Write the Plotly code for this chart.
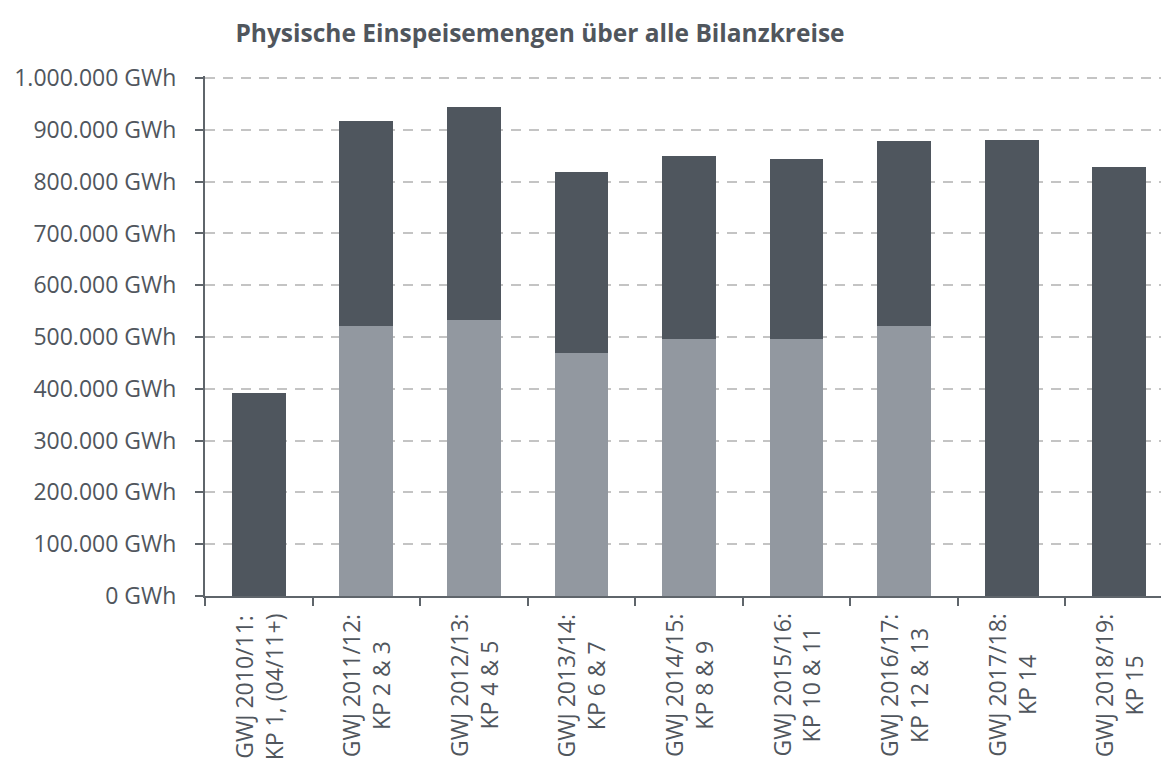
"""Physische Einspeisemengen über alle Bilanzkreise - stacked bar chart."""

import plotly.graph_objects as go

categories = [
    "GWJ 2010/11:<br>KP 1, (04/11+)",
    "GWJ 2011/12:<br>KP 2 & 3",
    "GWJ 2012/13:<br>KP 4 & 5",
    "GWJ 2013/14:<br>KP 6 & 7",
    "GWJ 2014/15:<br>KP 8 & 9",
    "GWJ 2015/16:<br>KP 10 & 11",
    "GWJ 2016/17:<br>KP 12 & 13",
    "GWJ 2017/18:<br>KP 14",
    "GWJ 2018/19:<br>KP 15",
]

# lower (light) part of the stack, GWh
lower_part = [0, 521000, 533000, 469000, 496000, 496000, 521000, 0, 0]
totals = [392000, 917000, 944000, 819000, 849000, 844000, 878000, 880000, 828000]
upper_part = [t - l for t, l in zip(totals, lower_part)]

y_ticks = [i * 100000 for i in range(11)]
y_tick_text = [f"{v:,}".replace(",", ".") + " GWh" for v in y_ticks]

DARK = "#4f565e"
LIGHT = "#9298a0"
TEXT = "#50565d"
AXIS = "#5f656b"
FONT = "Open Sans"

# the page body adds an 8px offset, so the figure is placed with that in mind
W, H = 1169, 763

fig = go.Figure()
fig.add_trace(go.Bar(x=categories, y=lower_part, marker={"color": LIGHT, "line": {"width": 0}}))
fig.add_trace(go.Bar(x=categories, y=upper_part, marker={"color": DARK, "line": {"width": 0}}))

# rotated category labels with centred lines (tick labels would be end-aligned)
for cat in categories:
    fig.add_annotation(
        x=cat,
        xref="x",
        y=0,
        yref="paper",
        yanchor="top",
        xanchor="center",
        yshift=-15,
        text=cat,
        textangle=-90,
        align="center",
        showarrow=False,
        font={"family": FONT, "size": 23, "color": TEXT},
    )

fig.update_layout(
    barmode="stack",
    bargap=0.5,
    showlegend=False,
    width=W,
    height=H,
    margin={"l": 197, "r": 4, "t": 68, "b": 175},
    paper_bgcolor="white",
    plot_bgcolor="white",
    font={"family": FONT, "color": TEXT, "size": 23},
    title={
        "text": "<b>Physische Einspeisemengen über alle Bilanzkreise</b>",
        "x": 532 / W,
        "xanchor": "center",
        "y": 1 - 25 / H,
        "yanchor": "middle",
        "font": {"family": FONT, "size": 24.5, "color": TEXT},
    },
)
fig.update_yaxes(
    range=[0, 1004000],
    tickmode="array",
    tickvals=y_ticks,
    ticktext=y_tick_text,
    tickfont={"size": 23},
    ticklabelstandoff=14,
    showgrid=True,
    gridcolor="#c4c4c4",
    griddash="10px,8px",
    gridwidth=2,
    zeroline=False,
    showline=True,
    linecolor=AXIS,
    linewidth=2,
    ticks="outside",
    ticklen=8,
    tickcolor=AXIS,
    tickwidth=2,
)
fig.update_xaxes(
    showticklabels=False,
    showline=True,
    linecolor=AXIS,
    linewidth=2,
    ticks="outside",
    tickson="boundaries",
    ticklen=8,
    tickcolor=AXIS,
    tickwidth=2,
)

fig.write_html("out.html")
